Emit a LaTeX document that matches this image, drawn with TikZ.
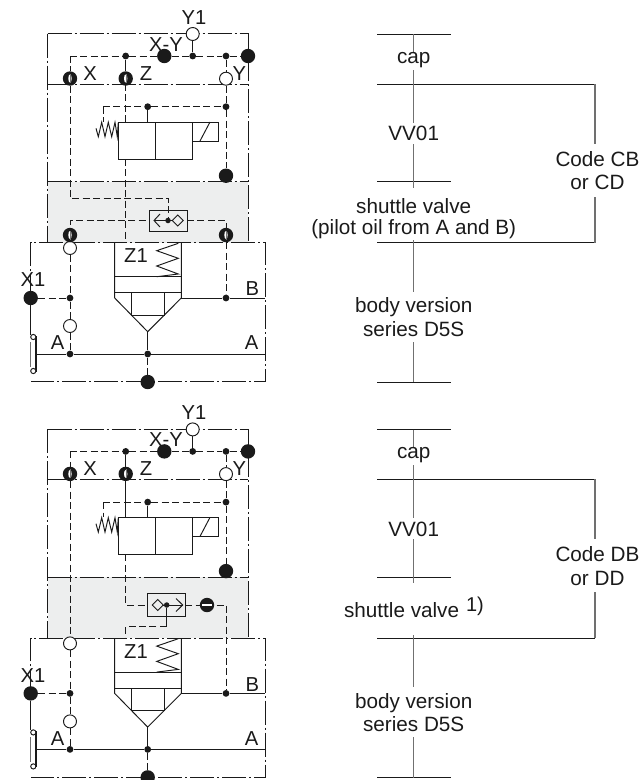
\documentclass[tikz,border=0pt]{standalone}
\usepackage{fontspec}
\setmainfont{Liberation Sans}
\usetikzlibrary{calc}
\definecolor{ink}{HTML}{1A1A1A}
\definecolor{band}{HTML}{EDEEEE}
\definecolor{stem}{HTML}{707070}
\tikzset{
  x=1pt,y=-1pt,
  solid line/.style={draw=ink,line width=0.95pt},
  pilot/.style={draw=ink,line width=0.95pt,dash pattern=on 7pt off 3.4pt},
  frame/.style={draw=ink,line width=0.95pt,dash pattern=on 24pt off 3pt on 2pt off 3pt},
  stem/.style={draw=stem,line width=1.1pt},
  rule/.style={draw=ink,line width=0.95pt},
  lab/.style={font=\fontsize{20.7}{23.5}\selectfont,text=ink,inner sep=0pt,align=center},
  tag/.style={font=\fontsize{20.2}{23}\selectfont,text=ink,inner sep=0pt},
  sdot/.style={circle,fill=ink,draw=none,minimum size=6.8pt,inner sep=0pt},
  bdot/.style={circle,fill=ink,draw=none,minimum size=14.4pt,inner sep=0pt},
  wdot/.style={circle,fill=white,draw=ink,line width=0.95pt,minimum size=13pt,inner sep=0pt},
  slitv/.style={bdot,path picture={\fill[white] (path picture bounding box.center) ellipse (1.7 and 4);\draw[ink!60,line width=0.4pt] ($(path picture bounding box.center)+(0,-4.5)$) -- ($(path picture bounding box.center)+(0,4.5)$);}},
  sliph/.style={bdot,path picture={\fill[white] ($(path picture bounding box.center)+(-4.6,-1.2)$) rectangle ($(path picture bounding box.center)+(4.6,1.2)$);}},
  mini/.style={circle,fill=white,draw=ink,line width=0.95pt,minimum size=5.2pt,inner sep=0pt},
}
% #1 vertical offset of one schematic
\newcommand{\schem}[2]{%
\begin{scope}[yshift=#1*-1pt]
  % frames
  \coordinate (#2fa) at (47.7,33.7); \coordinate (#2fb) at (248,33.7);
  \coordinate (#2fc) at (47.7,242.7); \coordinate (#2fd) at (248,242.7);
  \coordinate (#2ga) at (47.7,84); \coordinate (#2gb) at (248,84);
  \coordinate (#2ha) at (47.7,181.7); \coordinate (#2hb) at (248,181.7);
  \coordinate (#2ba) at (30.7,242.7); \coordinate (#2bb) at (265,242.7);
  \coordinate (#2bc) at (265,381.7); \coordinate (#2bd) at (30.7,381.7);
  \coordinate (#2lo) at (30.7,298);
  \coordinate (#2lp) at (30.7,335);
  \coordinate (#2pl) at (70,56); \coordinate (#2r1) at (103,106.7);
  \fill[band] (#2ha) rectangle (#2fd);
  \draw[frame] (#2fa) -- (#2fc);
  \draw[frame] (#2fa) -- (#2fb) -- (#2fd);
  \draw[frame] (#2ga) -- (#2gb);
  \draw[frame] (#2ha) -- (#2hb);
  \draw[frame] (#2lo) -- (#2ba) -- (#2bb) -- (#2bc) -- (#2bd);
  % junction nodes
  \node[sdot] (#2j1) at (125.7,56) {};
  \node[sdot] (#2j2) at (192.7,56) {};
  \node[sdot] (#2j3) at (226,56) {};
  \node[bdot] (#2xy) at (164.3,56) {};
  \node[bdot] (#2er) at (248,56) {};
  \node[wdot] (#2yo) at (192.7,34) {};
  \node[slitv] (#2cx) at (70,78.5) {};
  \node[slitv] (#2cz) at (125.7,78.5) {};
  \node[wdot] (#2cy) at (226,78.7) {};
  \node[sdot] (#2k1) at (147.7,106.7) {};
  \node[sdot] (#2k2) at (226,106.7) {};
  \node[bdot] (#2kb) at (226,175.7) {};
  \node[wdot] (#2w1) at (70,248) {};
  \node[bdot] (#2x1) at (30.7,298) {};
  \node[sdot] (#2xj) at (70,298) {};
  \node[wdot] (#2w2) at (70,326) {};
  \node[sdot] (#2aj) at (70,354) {};
  \node[sdot] (#2mj) at (147.7,354) {};
  \node[sdot] (#2bj) at (226,298) {};
  \node[bdot] (#2dr) at (147.7,382) {};
  % pilot lines
  \draw[pilot] (#2pl) -- (#2j1) -- (#2xy) -- (#2j2) -- (#2j3) -- (#2er);
  \draw[pilot] (#2pl) -- (#2cx);
  \draw[solid line] (#2j1) -- (#2cz);
  \draw[solid line] (#2j2) -- (#2yo);
  \draw[pilot] (#2j3) -- (#2cy);
  \draw[pilot] (#2cy) -- (#2k2) -- (#2kb);
  \draw[pilot] (#2r1) -- (#2k1) -- (#2k2);
  % valve
  \coordinate (#2v1) at (118,122); \coordinate (#2v2) at (192,159);
  \coordinate (#2vm) at (155,122); \coordinate (#2vn) at (155,159);
  \draw[solid line] (#2v1) rectangle (#2v2);
  \draw[solid line] (#2vm) -- (#2vn);
  \coordinate (#2s0) at (192,122); \coordinate (#2s1) at (218,141);
  \draw[solid line] (#2s0) -- (#2s0 -| #2s1) -- (#2s1) -- (#2s1 -| #2s0);
  \draw[solid line] (200,141) -- (210,122);
  \draw[solid line] (#2k1) -- (147.7,122);
  \draw[pilot] (#2r1) -- (103,122);
  \draw[solid line] (96,128.3) -- (98.3,136.7) -- (101.7,122.3) -- (105,136.7) -- (108.3,122.3) -- (111.7,136.7) -- (115,122.3) -- (117.3,136.7) -- (118.3,122.3);
  % main body
  \coordinate (#2p1) at (114.7,242.7); \coordinate (#2p2) at (181.3,242.7);
  \coordinate (#2p3) at (181.3,298); \coordinate (#2p4) at (114.7,298);
  \coordinate (#2tip) at (147.7,331.7);
  \draw[solid line] (#2p1) -- (#2p4) -- (#2tip) -- (#2p3) -- (#2p2);
  \draw[solid line] (114.7,276.7) -- (181.3,276.7);
  \draw[solid line] (114.7,292.7) -- (181.3,292.7);
  \draw[solid line] (131.3,292.7) -- (131.3,315) -- (164.7,315) -- (164.7,292.7);
  \draw[solid line] (178.3,243.3) -- (156.7,250.7) -- (178.3,258.3) -- (156.7,266) -- (178.3,274) -- (156.7,276.7);
  \draw[solid line] (#2tip) -- (#2mj);
  \draw[pilot] (#2mj) -- (#2dr);
  \draw[solid line] (#2p3) -- (#2bj) -- (265,298);
  \draw[solid line] (36,354) -- (#2aj) -- (#2mj) -- (265,354);
  \draw[pilot] (#2w1) -- (#2xj) -- (#2w2) -- (#2aj);
  \draw[pilot] (#2x1) -- (#2xj);
  \draw[solid line] (#2x1) -- (#2lp);
  \draw[line width=1.5pt,draw=ink] (36,336) -- (36,372);
  \draw[draw=stem,line width=0.8pt] (30.7,342) -- (30.7,367);
  \node[mini] (#2m1) at (33.3,337) {};
  \node[mini] (#2m2) at (33.3,371) {};
  % port labels
  \node[tag] (#2ly) at (194,17.5) {Y1};
  \node[tag] (#2lxy) at (166,44.3) {X-Y};
  \node[tag] (#2lx) at (90,73.3) {X};
  \node[tag] (#2lz) at (146,73.3) {Z};
  \node[tag] (#2lyy) at (239.3,73.3) {Y};
  \node[tag] (#2lz1) at (136,255.7) {Z1};
  \node[tag] (#2lx1) at (33,280) {X1};
  \node[tag] (#2lb) at (252.3,289) {B};
  \node[tag] (#2la) at (57.7,343) {A};
  \node[tag] (#2lr) at (251.7,343) {A};
\end{scope}}
% #1 offset, #2 prefix
\newcommand{\scale}[2]{%
\begin{scope}[yshift=#1*-1pt]
  \coordinate (#2t1) at (377,34.3); \coordinate (#2t1e) at (450.7,34.3);
  \coordinate (#2t2) at (377,84); \coordinate (#2t2e) at (595,84);
  \coordinate (#2t3) at (377,181.7); \coordinate (#2t3e) at (450.7,181.7);
  \coordinate (#2t4) at (377,242.7); \coordinate (#2t4e) at (595,242.7);
  \coordinate (#2t5) at (377,382.3); \coordinate (#2t5e) at (450.7,382.3);
  \draw[rule] (#2t1) -- (#2t1e);
  \draw[rule] (#2t2) -- (#2t2e);
  \draw[rule] (#2t3) -- (#2t3e);
  \draw[rule] (#2t4) -- (#2t4e);
  \draw[rule] (#2t5) -- (#2t5e);
  \draw[stem] (413.7,34.3) -- (413.7,53);
  \draw[stem] (413.7,70) -- (413.7,123);
  \draw[stem] (413.7,144) -- (413.7,188);
  \draw[stem] (413.7,240) -- (413.7,292);
  \draw[stem] (413.7,342) -- (413.7,382.3);
  \draw[stem] (595,84) -- (595,144);
  \draw[stem] (595,197) -- (595,242.7);
  \node[lab] (#2cap) at (413.7,60) {cap};
  \node[lab] (#2vv) at (413.7,133.5) {VV01};
  \node[lab] (#2bod) at (413.7,317) {body version\\series D5S};
\end{scope}}
\begin{document}
\begin{tikzpicture}
  \clip (0,0) rectangle (641,780);
  \schem{0}{a}
  \schem{395.4}{b}
  \scale{0}{c}
  \scale{395.4}{d}
  % top-only: shuttle valve
  \coordinate (a70) at (70,198); \coordinate (a168) at (168,198);
  \node[sdot,minimum size=5.5pt] (ash) at (168,220.5) {};
  \draw[pilot] (acx) -- (a70) -- (a168) -- (ash);
  \draw[solid line,fill=none] (149.7,210) rectangle (187,231.7);
  \draw[pilot] (70,235) -- (70,220.5) -- (149.7,220.5);
  \draw[pilot] (187,220.5) -- (226,220.5) -- (226,235);
  \node[slitv] (asa) at (70,235) {};
  \node[slitv] (asb) at (226,235) {};
  \draw[pilot] (asa) -- (aw1);
  \draw[pilot] (asb) -- (abj);
  \draw[solid line] (154,220.5) -- (172,220.5);
  \draw[solid line] (160,214) -- (154,220.5) -- (160,227);
  \draw[solid line,fill=band] (177.7,215) -- (183.2,220.5) -- (177.7,226) -- (172.2,220.5) -- cycle;
  \draw[pilot] (125.7,159) -- (125.7,242.7);
  \draw[pilot] (125.7,84) -- (125.7,122);
  % bottom-only: shuttle valve
  \coordinate (b1) at (125.7,605); \coordinate (b2) at (226,605);
  \coordinate (b3) at (166.7,626.7); \coordinate (b4) at (125.7,626.7); \coordinate (b5) at (125.7,638.3);
  \node[sdot,minimum size=5.5pt] (bsh) at (166.7,605) {};
  \draw[pilot] (bcz) -- (125.7,517.4);
  \draw[solid line] (125.7,479) -- (125.7,517.4);
  \draw[pilot] (125.7,554.4) -- (b1) -- (147.7,605);
  \draw[solid line] (147.7,593.7) rectangle (185.3,616);
  \draw[pilot] (185.3,605) -- (b2) -- (bbj);
  \node[sliph] (bsl) at (207,605) {};
  \draw[solid line] (152,605) -- (182.7,605);
  \draw[solid line] (176,598.5) -- (182.7,605) -- (176,611.5);
  \draw[solid line,fill=band] (157.7,599.5) -- (163.2,605) -- (157.7,610.5) -- (152.2,605) -- cycle;
  \draw[solid line] (bsh) -- (b3);
  \draw[pilot] (b3) -- (b4) -- (b5);
  \draw[pilot] (bcx) -- (bw1);
  % label groups
  \node[lab] (cs1) at (413.7,206.5) {shuttle valve};
  \node[lab] (cs2) at (413.7,229.5) {(pilot oil from A and B)};
  \node[lab] (ccode) at (597.5,170.5) {Code CB\\or CD};
  \node[lab] (ds1) at (401.6,610.5) {shuttle valve};
  \node[lab,font=\fontsize{20}{23}\selectfont] (ds2) at (475,606.5) {1)};
  \node[lab] (dcode) at (597.5,566) {Code DB\\or DD};
\end{tikzpicture}
\end{document}
